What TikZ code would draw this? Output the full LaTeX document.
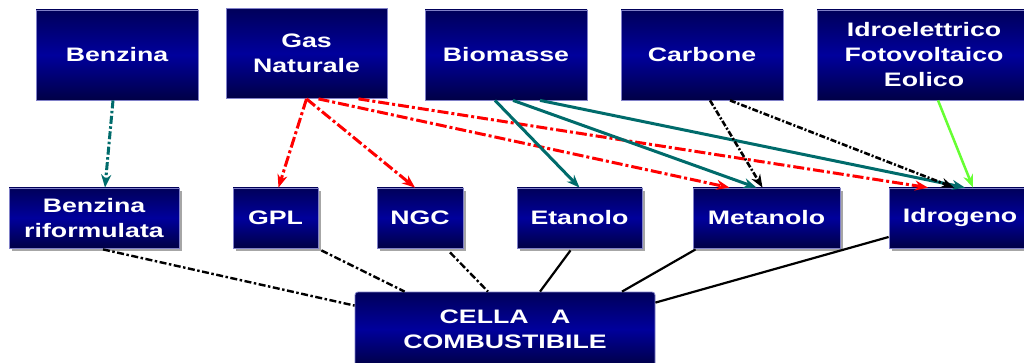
\documentclass[tikz,border=0pt]{standalone}
\usepackage{fontspec}
\newfontfamily\boxfont{Liberation Sans}[FakeStretch=1.37]
\usetikzlibrary{arrows.meta,calc,shadows}

\definecolor{navytop}{HTML}{00005A}
\definecolor{navymid}{HTML}{00009C}
\definecolor{navybot}{HTML}{000046}
\definecolor{boxline}{HTML}{8080C8}
\definecolor{tealline}{HTML}{006B6B}
\definecolor{greenline}{HTML}{66FF33}

\begin{document}
\begin{tikzpicture}[x=1pt, y=-1pt, >={Stealth[length=13pt,width=10pt]},
    fuelbox/.style={draw=boxline, line width=0.8pt, top color=navytop, bottom color=navybot,
        middle color=navymid, text=white, align=center, inner sep=0pt,
        font=\boxfont\bfseries\fontsize{19.5}{25}\selectfont},
    srcbox/.style={fuelbox, minimum height=90pt},
    endbox/.style={fuelbox, minimum height=60pt,
        drop shadow={shadow xshift=3pt, shadow yshift=-3pt, fill=gray!70, opacity=1}},
    redarrow/.style={->, red, line width=3pt, dash pattern=on 11pt off 3pt on 3pt off 3pt},
    tealarrow/.style={->, tealline, line width=3pt},
    blackarrow/.style={->, black, line width=2.6pt, dash pattern=on 6pt off 2pt on 2pt off 2pt},
    dashlink/.style={black, line width=2.4pt, dash pattern=on 7pt off 2.5pt on 2.5pt off 2.5pt},
    link/.style={black, line width=2.2pt}]
    \useasboundingbox (0,0) rectangle (1024,363);

    % sources
    \node[srcbox, minimum width=162pt] (benz) at (117,55) {Benzina};
    \node[srcbox, minimum width=161pt] (gas) at (306.5,53.5) {Gas\\Naturale};
    \node[srcbox, minimum width=162pt] (bio) at (506,55) {Biomasse};
    \node[srcbox, minimum width=162pt] (carb) at (702,55) {Carbone};
    \node[srcbox, minimum width=214pt] (ren) at (924,55) {Idroelettrico\\Fotovoltaico\\Eolico};

    % fuels
    \node[endbox, minimum width=170pt] (rif) at (94,218) {Benzina\\riformulata};
    \node[endbox, minimum width=85pt] (gpl) at (275.5,218) {GPL};
    \node[endbox, minimum width=86pt] (ngc) at (420,218) {NGC};
    \node[endbox, minimum width=125pt] (etn) at (579.5,218) {Etanolo};
    \node[endbox, minimum width=147pt] (met) at (766.5,218) {Metanolo};
    \node[endbox, minimum width=142pt] (idro) at (960,218) {Idrogeno};

    \node[fuelbox, rounded corners=3pt, minimum width=300pt, minimum height=74pt] (cella) at (505,329)
        {CELLA\ \ \ A\\COMBUSTIBILE};

    % sources to fuels
    \draw[->, tealline, line width=3pt, dash pattern=on 8pt off 2.5pt on 2.5pt off 2.5pt]
        ($(benz.south)+(-4,0)$) -- ($(rif.north)+(11,0)$);
    \draw[redarrow] (gas.south) -- ($(gpl.north)+(3,0)$);
    \draw[redarrow] (gas.south) -- ($(ngc.north)+(-5,0)$);
    \draw[redarrow] ($(gas.south)+(12,0)$) -- ($(met.north)+(-37,0)$);
    \draw[redarrow] ($(gas.south)+(52,0)$) -- ($(idro.north)+(-32,0)$);
    \draw[tealarrow] ($(bio.south)+(-11,0)$) -- (etn.north);
    \draw[tealarrow] ($(bio.south)+(7,0)$) -- ($(met.north)+(-10,0)$);
    \draw[tealarrow] ($(bio.south)+(34,0)$) -- ($(idro.north)+(5,0)$);
    \draw[blackarrow] ($(carb.south)+(8,0)$) -- ($(met.north)+(-4,0)$);
    \draw[blackarrow] ($(carb.south)+(28,0)$) -- ($(idro.north)+(-6,0)$);
    \draw[->, greenline, line width=2.5pt] ($(ren.south)+(14,0)$) -- ($(idro.north)+(13,0)$);

    % fuels to the cell
    \draw[dashlink] ($(rif.south)+(9,1)$) -- ($(cella.north west)+(0,14)$);
    \draw[dashlink] ($(gpl.south east)+(3,2)$) -- ($(cella.north west)+(50,0)$);
    \draw[dashlink] ($(ngc.south)+(30,4)$) -- ($(cella.north)+(-17,0)$);
    \draw[link] ($(etn.south)+(-9,2)$) -- ($(cella.north)+(35,0)$);
    \draw[link] ($(met.south west)+(3,1)$) -- ($(cella.north)+(117,0)$);
    \draw[link] ($(idro.west)+(0,19)$) -- ($(cella.north east)+(0,11)$);
\end{tikzpicture}
\end{document}
